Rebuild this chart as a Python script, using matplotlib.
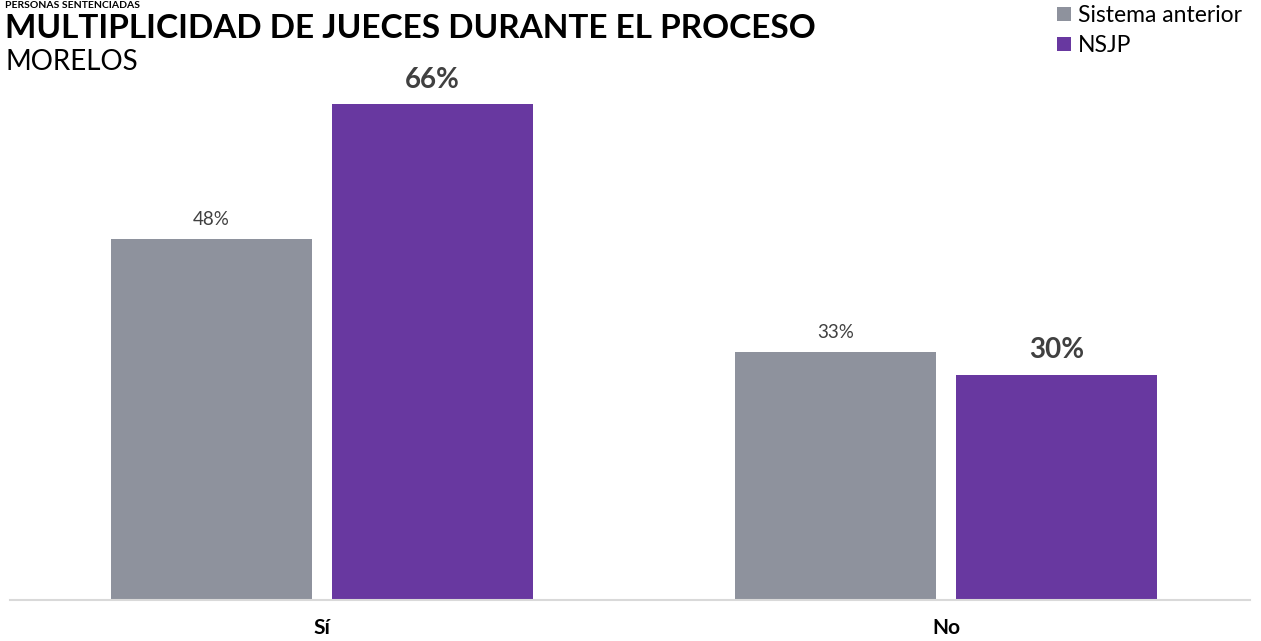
import matplotlib.pyplot as plt
import numpy as np

plt.rcParams['font.family'] = ['Lato', 'DejaVu Sans']

categories = ["Sí", "No"]
series_names = ["Sistema anterior", "NSJP"]
anterior = [48, 33]
nsjp = [66, 30]
colors = ["#8E929D", "#6838A0"]

fig = plt.figure(figsize=(12.61, 6.41), dpi=100)
ax = fig.add_axes([10 / 1261, 41 / 641, 1240 / 1261, 540 / 641])

x = np.arange(len(categories))
w = 0.322
off = 0.177
b1 = ax.bar(x - off, anterior, w, color=colors[0], label=series_names[0])
b2 = ax.bar(x + off, nsjp, w, color=colors[1], label=series_names[1])

for rect, v in zip(b1, anterior):
    ax.annotate(f"{v}%", (rect.get_x() + rect.get_width() / 2, v),
                xytext=(0, 14.5), textcoords="offset points", ha="center", va="center",
                fontsize=13.5, color="#404040")
for rect, v in zip(b2, nsjp):
    ax.annotate(f"{v}%", (rect.get_x() + rect.get_width() / 2, v),
                xytext=(0, 17.5), textcoords="offset points", ha="center", va="center",
                fontsize=20, fontweight="bold", color="#404040")

ax.set_xlim(-0.5, 1.487)
ax.set_ylim(0, 71.9)
ax.set_xticks(x)
ax.set_xticklabels(categories, fontsize=15, fontweight="bold")
ax.tick_params(axis="x", length=0, pad=13)
ax.set_yticks([])
for s in ["top", "right", "left"]:
    ax.spines[s].set_visible(False)
ax.spines["bottom"].set_color("#D9D9D9")
ax.spines["bottom"].set_linewidth(1.5)

fig.text(5 / 1261, 1 - 8 / 641, "PERSONAS SENTENCIADAS", fontsize=7.5, fontweight="bold",
         va="baseline", ha="left")
fig.text(5 / 1261, 1 - 38 / 641, "MULTIPLICIDAD DE JUECES DURANTE EL PROCESO", fontsize=24,
         fontweight="bold", va="baseline", ha="left")
fig.text(5 / 1261, 1 - 70 / 641, "MORELOS", fontsize=20, va="baseline", ha="left")

ax.legend(loc="upper right", bbox_to_anchor=(1242 / 1261, 1 - 5 / 641),
          bbox_transform=fig.transFigure, frameon=False, fontsize=16.5,
          handlelength=0.6, handleheight=0.6, handletextpad=0.3, labelspacing=0.4,
          borderpad=0, borderaxespad=0)

fig.savefig("out.png", dpi=100)
